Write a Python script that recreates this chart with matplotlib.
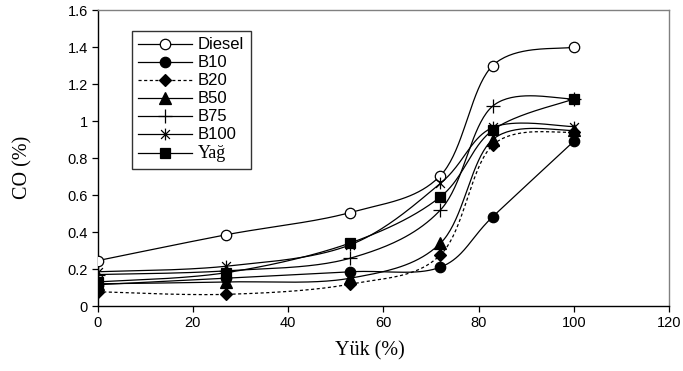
import numpy as np
import matplotlib
matplotlib.use("Agg")
import matplotlib.pyplot as plt
from matplotlib.path import Path

# ---- data ----
load = [0, 27, 53, 72, 83, 100]
diesel = [0.245, 0.385, 0.505, 0.705, 1.30, 1.40]
b10 = [0.115, 0.15, 0.185, 0.21, 0.483, 0.89]
b20 = [0.077, 0.063, 0.118, 0.276, 0.87, 0.94]
b50 = [0.12, 0.13, 0.15, 0.339, 0.90, 0.95]
b75 = [0.17, 0.19, 0.258, 0.519, 1.081, 1.12]
b100 = [0.185, 0.215, 0.33, 0.663, 0.965, 0.97]
yag = [0.13, 0.18, 0.34, 0.59, 0.951, 1.119]
labels = ["Diesel", "B10", "B20", "B50", "B75", "B100", "Yağ"]
xticks = [0, 20, 40, 60, 80, 100, 120]
yticks = [0, 0.2, 0.4, 0.6, 0.8, 1.0, 1.2, 1.4, 1.6]


def smooth(xs, ys, n=40):
    """Excel-like smoothed line (Catmull-Rom Bezier)."""
    P = np.column_stack([xs, ys]).astype(float)
    out = [P[0]]
    t = np.linspace(0, 1, n)[1:, None]
    for i in range(len(P) - 1):
        p0 = P[i - 1] if i > 0 else P[i]
        p1, p2 = P[i], P[i + 1]
        p3 = P[i + 2] if i + 2 < len(P) else P[i + 1]
        c1 = p1 + (p2 - p0) / 6.0
        c2 = p2 - (p3 - p1) / 6.0
        seg = ((1 - t) ** 3) * p1 + 3 * ((1 - t) ** 2) * t * c1 + 3 * (1 - t) * t ** 2 * c2 + t ** 3 * p2
        out.extend(seg)
    out = np.array(out)
    return out[:, 0], out[:, 1]


star = Path([(0, -1), (0, 1), (-0.75, -0.75), (0.75, 0.75), (-0.75, 0.75), (0.75, -0.75)],
            [Path.MOVETO, Path.LINETO, Path.MOVETO, Path.LINETO, Path.MOVETO, Path.LINETO])

fig = plt.figure(figsize=(6.83, 3.71), dpi=100)
ax = fig.add_axes([0.1428, 0.1752, 0.8367, 0.7978])

series = [diesel, b10, b20, b50, b75, b100, yag]
styles = [
    dict(marker="o", mfc="white", ms=7.5, ls="-"),
    dict(marker="o", mfc="black", ms=7.5, ls="-"),
    dict(marker="D", mfc="black", ms=6.3, ls=(0, (2.5, 2))),
    dict(marker="^", mfc="black", ms=8, ls="-"),
    dict(marker="+", mfc="black", ms=9.5, ls="-", mew=0.9),
    dict(marker=star, mfc="none", ms=8.5, ls="-", mew=0.9),
    dict(marker="s", mfc="black", ms=7.5, ls="-"),
]

handles = []
for ys, st, lab in zip(series, styles, labels):
    sx, sy = smooth(load, ys)
    ls = st["ls"]
    ax.plot(sx, sy, color="black", lw=0.9, ls=ls, zorder=2)
    ax.plot(load, ys, ls="none", marker=st["marker"], ms=st["ms"], mfc=st["mfc"],
            mec="black", mew=st.get("mew", 0.9), zorder=3)
    h, = ax.plot([], [], color="black", lw=0.9, ls=ls, marker=st["marker"], ms=st["ms"],
                 mfc=st["mfc"], mec="black", mew=st.get("mew", 0.9))
    handles.append(h)

ax.set_xlim(0, 120)
ax.set_ylim(0, 1.6)
ax.set_xticks(xticks)
ax.set_yticks(yticks)
ax.set_xticklabels([str(v) for v in xticks], fontsize=10.5, family="Liberation Sans")
ax.set_yticklabels([f"{v:g}" for v in yticks], fontsize=10.5, family="Liberation Sans")
ax.tick_params(direction="out", length=4, width=0.9, color="black", pad=3)

for s in ["left", "bottom"]:
    ax.spines[s].set_color("black")
    ax.spines[s].set_linewidth(1.0)
for s in ["top", "right"]:
    ax.spines[s].set_color("#808080")
    ax.spines[s].set_linewidth(1.0)

ax.set_xlabel("Yük (%)", fontsize=14.5, family="Liberation Serif")
ax.set_ylabel("CO (%)", fontsize=14.5, family="Liberation Serif")
ax.xaxis.set_label_coords(0.477, -0.152)
ax.yaxis.set_label_coords(-0.130, 0.47)
ax.xaxis.label.set_va("center")
ax.yaxis.label.set_va("center")

leg = ax.legend(handles, labels, loc="upper left", bbox_to_anchor=(0.06, 0.93),
                borderaxespad=0, frameon=True, fancybox=False, handlelength=3.2,
                handletextpad=0.35, labelspacing=0.18, borderpad=0.4,
                prop={"family": "Liberation Sans", "size": 12})
leg.get_frame().set_edgecolor("black")
leg.get_frame().set_linewidth(1.0)
for t in leg.get_texts():
    if t.get_text() == "Yağ":
        t.set_family("Liberation Serif")
        t.set_fontsize(13)

fig.savefig("out.png", dpi=100)
